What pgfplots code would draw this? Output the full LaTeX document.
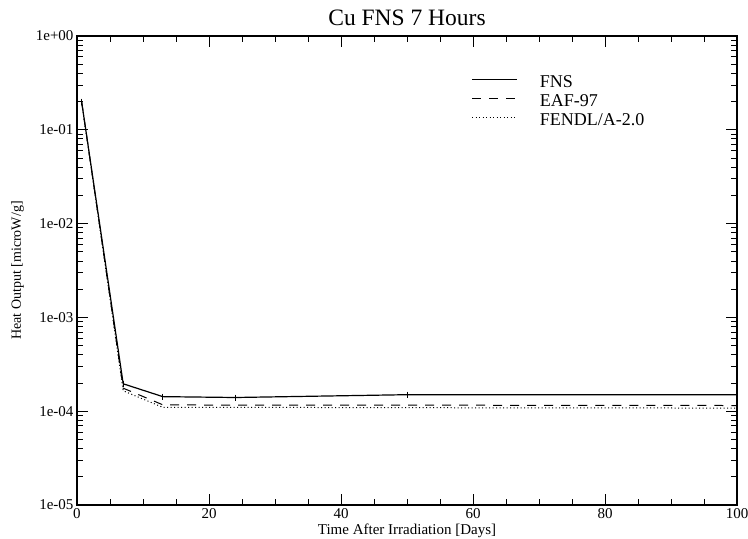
\documentclass[border=0pt]{standalone}
\usepackage{fontspec}
\setmainfont{Liberation Serif}
\usepackage{pgfplots}
\pgfplotsset{compat=1.18}

\begin{document}
\begin{tikzpicture}
\begin{axis}[
name=ax,
scale only axis,
width=660pt, height=469pt,
xmin=0, xmax=100,
ymode=log, ymin=1e-5, ymax=1,
xtick={0,20,...,100},
minor x tick num=3,
ytick={1e-5,1e-4,1e-3,1e-2,1e-1,1},
yticklabels={1e-05,1e-04,1e-03,1e-02,1e-01,1e+00},
xtick pos=both, ytick pos=both,
tick align=inside,
major tick length=11pt, minor tick length=6pt,
tick style={black, line width=0.8pt},
axis line style={line width=1.1pt},
ticklabel style={font=\fontsize{15}{17}\selectfont},
/pgf/number format/assume math mode=true,
xlabel={Time After Irradiation [Days]},
xlabel style={at={(axis description cs:0.5,0)}, anchor=base, yshift=-29pt,
  font=\fontsize{15}{17}\selectfont},
title={Cu FNS 7 Hours},
title style={at={(axis description cs:0.5,1)}, anchor=base, yshift=5pt,
  font=\fontsize{23.5}{26}\selectfont},
legend style={at={(axis description cs:0.593,0.922)}, anchor=north west,
  draw=none, fill=none, font=\fontsize{18}{19}\selectfont,
  nodes={inner sep=0pt, text height=13pt, text depth=6pt},
  column sep=22pt},
legend cell align=left,
legend image code/.code={\draw[#1] (0pt,5pt) -- (45pt,5pt);},
]
\addplot[black, line width=1.2pt, mark=|, mark size=3pt,
  mark options={solid, line width=0.8pt}]
  coordinates {(0.7,0.2) (7,1.96e-4) (13,1.43e-4) (24,1.40e-4) (50,1.50e-4) (100,1.50e-4)};
\addlegendentry{FNS}
\addplot[black, line width=1.0pt, dash pattern=on 9pt off 8pt]
  coordinates {(0.7,0.2) (7,1.76e-4) (13,1.17e-4) (24,1.16e-4) (50,1.16e-4) (100,1.15e-4)};
\addlegendentry{EAF-97}
\addplot[black, line width=1.0pt, dash pattern=on 1pt off 2.5pt]
  coordinates {(0.7,0.2) (7,1.65e-4) (13,1.10e-4) (24,1.10e-4) (50,1.09e-4) (100,1.08e-4)};
\addlegendentry{FENDL/A-2.0}
\end{axis}
\node[rotate=90, anchor=base, font=\fontsize{14}{16}\selectfont]
  at ([xshift=-56pt]ax.west) {Heat Output [microW/g]};
\pgfresetboundingbox
\path ([xshift=-77pt,yshift=-33pt]ax.south west) rectangle ([xshift=11pt,yshift=36pt]ax.north east);
\end{tikzpicture}
\end{document}
